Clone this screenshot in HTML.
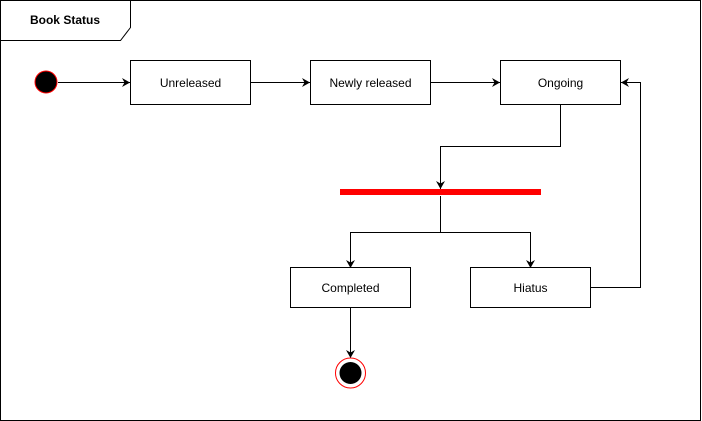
<!DOCTYPE html>
<html><head><meta charset="utf-8"><style>
html,body{margin:0;padding:0;background:#fff;}
svg{display:block;}
text{font-family:"Liberation Sans",sans-serif;font-size:12px;fill:#000;}
</style></head><body>
<svg width="702" height="421" viewBox="0 0 702 421" xmlns="http://www.w3.org/2000/svg">
<defs>
<marker id="a" markerWidth="12" markerHeight="12" refX="9" refY="6" orient="auto" markerUnits="userSpaceOnUse">
<path d="M1,1.5 L9,6 L1,10.5 L3.5,6 Z" fill="#000"/>
</marker>
</defs>
<rect x="0.5" y="0.5" width="700" height="420" fill="#fff" stroke="#000"/>
<path d="M0.5,40.5 L120.5,40.5 L130.5,27.5 L130.5,0.5" fill="none" stroke="#000"/>
<text x="65" y="24" text-anchor="middle" font-weight="bold">Book Status</text>

<circle cx="46" cy="82" r="11" fill="#000" stroke="#f00" stroke-width="1"/>
<line x1="58" y1="82.5" x2="130" y2="82.5" stroke="#000" marker-end="url(#a)"/>

<rect x="130.5" y="60.5" width="120" height="44" fill="#fff" stroke="#000"/>
<text x="190.5" y="87" text-anchor="middle">Unreleased</text>
<line x1="250.5" y1="82.5" x2="310" y2="82.5" stroke="#000" marker-end="url(#a)"/>

<rect x="310.5" y="60.5" width="120" height="44" fill="#fff" stroke="#000"/>
<text x="370.5" y="87" text-anchor="middle">Newly released</text>
<line x1="430.5" y1="82.5" x2="500" y2="82.5" stroke="#000" marker-end="url(#a)"/>

<rect x="500.5" y="60.5" width="120" height="44" fill="#fff" stroke="#000"/>
<text x="560.5" y="87" text-anchor="middle">Ongoing</text>

<path d="M560.5,104.5 L560.5,146.5 L440.5,146.5 L440.5,189" fill="none" stroke="#000" marker-end="url(#a)"/>
<rect x="340" y="189" width="201" height="6" fill="#f00"/>
<path d="M440.5,196 L440.5,232.5" fill="none" stroke="#000"/>
<path d="M440.5,232.5 L350.5,232.5 L350.5,268" fill="none" stroke="#000" marker-end="url(#a)"/>
<path d="M440.5,232.5 L530.5,232.5 L530.5,268" fill="none" stroke="#000" marker-end="url(#a)"/>

<rect x="290.5" y="267.5" width="120" height="40" fill="#fff" stroke="#000"/>
<text x="350.5" y="292" text-anchor="middle">Completed</text>
<rect x="470.5" y="267.5" width="120" height="40" fill="#fff" stroke="#000"/>
<text x="530.5" y="292" text-anchor="middle">Hiatus</text>

<path d="M590.5,287.5 L640.5,287.5 L640.5,82.5 L621,82.5" fill="none" stroke="#000" marker-end="url(#a)"/>

<path d="M350.5,307.5 L350.5,358" fill="none" stroke="#000" marker-end="url(#a)"/>
<circle cx="350.5" cy="373" r="15" fill="#fff" stroke="#f00"/>
<circle cx="350.5" cy="373" r="11" fill="#000"/>
</svg>
</body></html>
